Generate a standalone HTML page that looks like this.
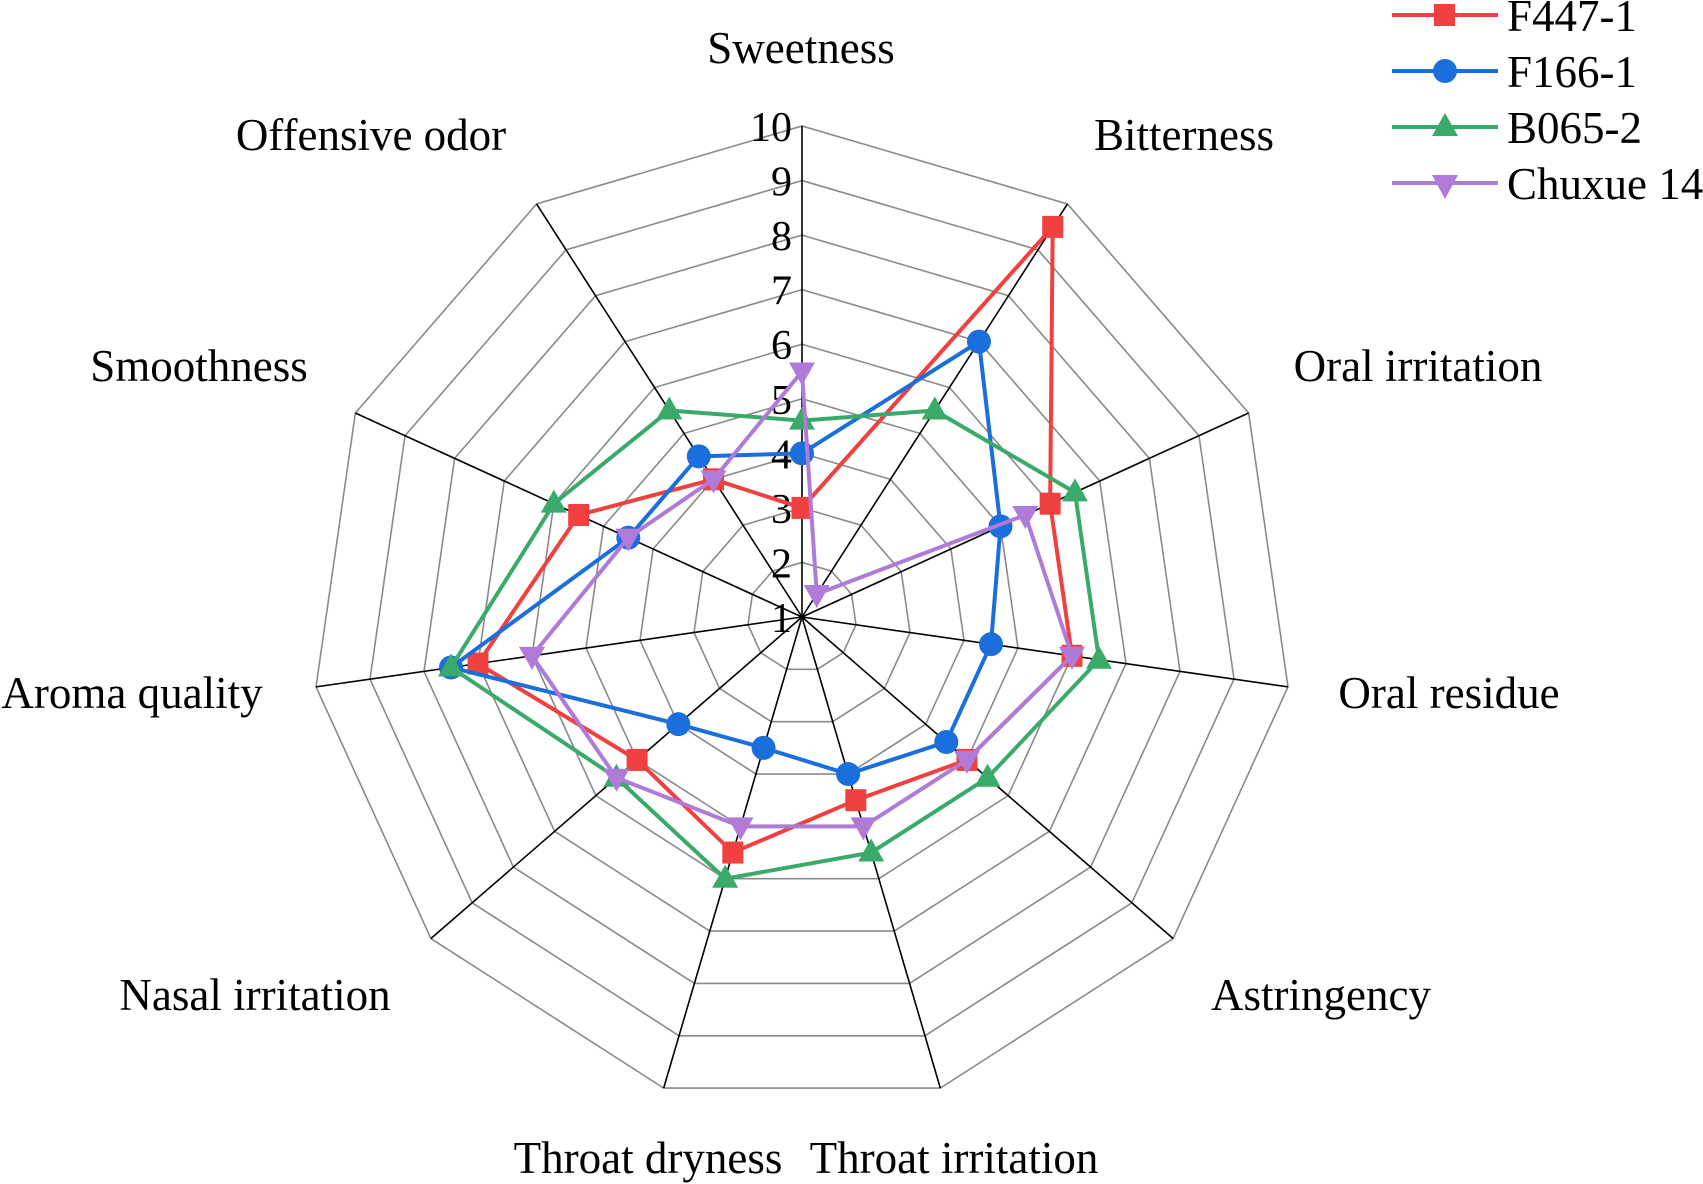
<!DOCTYPE html>
<html><head><meta charset="utf-8"><style>
html,body{margin:0;padding:0;background:#fff}
svg{display:block}
text{font-family:"Liberation Serif",serif;fill:#000}
</style></head><body>
<svg id="s" width="1703" height="1184" viewBox="0 0 1703 1184" xmlns="http://www.w3.org/2000/svg">
<g id="grid"></g>
<g id="ticks" font-size="42" text-anchor="end"></g>
<g id="series"></g>
<g font-size="45" text-anchor="middle">
<text x="801" y="63">Sweetness</text>
<text x="1184" y="150">Bitterness</text>
<text x="1418" y="381">Oral irritation</text>
<text x="1449" y="708">Oral residue</text>
<text x="1321" y="1010">Astringency</text>
<text x="954" y="1173">Throat irritation</text>
<text x="648" y="1173">Throat dryness</text>
<text x="255" y="1010">Nasal irritation</text>
<text x="132" y="708">Aroma quality</text>
<text x="199" y="381">Smoothness</text>
<text x="371" y="150">Offensive odor</text>
</g>
<g font-size="45">
<line x1="1392" y1="15" x2="1498" y2="15" stroke="#f04040" stroke-width="4"/><rect x="1434" y="4" width="21" height="22" fill="#f04040"/><text x="1507" y="31">F447-1</text>
<line x1="1392" y1="71" x2="1498" y2="71" stroke="#1a6fdc" stroke-width="4"/><circle cx="1445" cy="71" r="12" fill="#1a6fdc"/><text x="1507" y="87">F166-1</text>
<line x1="1392" y1="127" x2="1498" y2="127" stroke="#3aaa6a" stroke-width="4"/><polygon points="1445,113 1432,136 1458,136" fill="#3aaa6a"/><text x="1507" y="143">B065-2</text>
<line x1="1392" y1="183" x2="1498" y2="183" stroke="#b07ad8" stroke-width="4"/><polygon points="1432,175 1458,175 1445,199" fill="#b07ad8"/><text x="1507" y="199">Chuxue 14</text>
</g>
</svg>
<script>
var cx=802,cy=617,R=491,N=11,NS="http://www.w3.org/2000/svg";
function pt(k,v){var a=k*2*Math.PI/N,r=(v-1)/9*R;return [cx+r*Math.sin(a),cy-r*Math.cos(a)];}
function el(t,at,p){var e=document.createElementNS(NS,t);for(var k in at)e.setAttribute(k,at[k]);p.appendChild(e);return e;}
var g=document.getElementById('grid');
for(var v=2;v<=10;v++){var ps=[];for(var k=0;k<N;k++)ps.push(pt(k,v).join(','));el('polygon',{points:ps.join(' '),fill:'none',stroke:'#8a8a8a','stroke-width':1.6},g);}
for(var k=0;k<N;k++){var p=pt(k,10);el('line',{x1:cx,y1:cy,x2:p[0],y2:p[1],stroke:'#000','stroke-width':1.6},g);}
var tg=document.getElementById('ticks');
for(var v=1;v<=10;v++){var t=el('text',{x:cx-10,y:cy-(v-1)/9*R+15},tg);t.textContent=String(v);}
var S=[
['#f04040','sq',[3,9.5,6,6,5,4.5,5.5,5,7,5.5,4]],
['#1a6fdc','ci',[4,7,5,4.5,4.5,4,3.5,4,7.5,4.5,4.5]],
['#3aaa6a','up',[4.6,5.5,6.5,6.5,5.5,5.5,6,5.5,7.5,6,5.5]],
['#b07ad8','dn',[5.5,1.5,5.5,6,5,5,5,5.5,6,4.5,4]]];
var sg=document.getElementById('series');
S.forEach(function(s){var ps=[];for(var k=0;k<N;k++)ps.push(pt(k,s[2][k]));
el('polygon',{points:ps.map(function(p){return p.join(',')}).join(' '),fill:'none',stroke:s[0],'stroke-width':4},sg);
ps.forEach(function(p){var x=p[0],y=p[1];
if(s[1]=='sq')el('rect',{x:x-10.5,y:y-11,width:21,height:22,fill:s[0]},sg);
else if(s[1]=='ci')el('circle',{cx:x,cy:y,r:12,fill:s[0]},sg);
else if(s[1]=='up')el('polygon',{points:(x)+','+(y-14)+' '+(x-13)+','+(y+9)+' '+(x+13)+','+(y+9),fill:s[0]},sg);
else el('polygon',{points:(x-13)+','+(y-9)+' '+(x+13)+','+(y-9)+' '+x+','+(y+14),fill:s[0]},sg);});});
</script>
</body></html>
